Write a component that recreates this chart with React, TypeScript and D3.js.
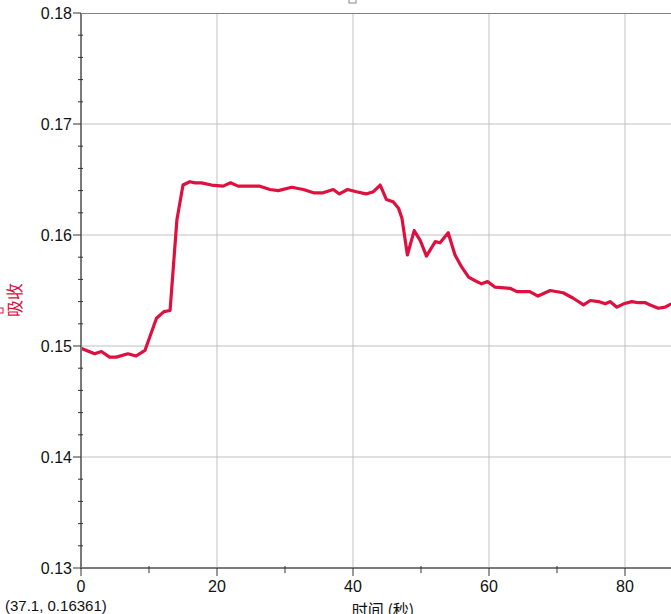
import React from "react";
import * as d3 from "d3";

const times = [0, 2, 3, 4.2, 5.2, 6.9, 8.1, 9.4, 11.1, 12.2, 13.1, 14.1, 15.0, 16.0, 16.8, 17.7, 19.2, 20.9, 22, 23.1, 26.3, 27.8, 29, 31, 32.7, 34.2, 35.6, 37.1, 38, 39.2, 40.5, 41.9, 43, 44, 44.9, 45.9, 46.7, 47.2, 48, 49, 49.9, 50.8, 52.1, 52.8, 54, 55, 56, 57, 57.9, 58.9, 59.8, 60.9, 63.1, 64.1, 66, 67.2, 69, 70.9, 72.4, 73.9, 74.9, 76.1, 77.1, 77.8, 78.8, 79.8, 81, 82, 83, 83.7, 84.9, 85.9, 86.8];
const absorb = [0.1498, 0.1493, 0.1495, 0.1490, 0.1490, 0.1493, 0.1491, 0.1496, 0.1525, 0.1531, 0.1532, 0.16135, 0.1645, 0.1648, 0.1647, 0.1647, 0.1645, 0.1644, 0.1647, 0.1644, 0.1644, 0.1641, 0.1640, 0.1643, 0.1641, 0.1638, 0.1638, 0.1641, 0.1637, 0.1641, 0.1639, 0.1637, 0.1639, 0.1645, 0.1632, 0.1630, 0.1624, 0.1615, 0.1582, 0.1604, 0.1595, 0.1581, 0.1594, 0.1593, 0.1602, 0.1582, 0.1571, 0.1562, 0.1559, 0.1556, 0.1558, 0.1553, 0.1552, 0.1549, 0.1549, 0.1545, 0.1550, 0.1548, 0.1543, 0.1537, 0.1541, 0.1540, 0.1538, 0.1540, 0.1535, 0.1538, 0.1540, 0.1539, 0.1539, 0.1537, 0.1534, 0.1535, 0.1538];

const xTicks = [0, 20, 40, 60, 80];
const xMinor = [10, 30, 50, 70];
const yTicks = [0.13, 0.14, 0.15, 0.16, 0.17, 0.18];
const yTickLabels = ["0.13", "0.14", "0.15", "0.16", "0.17", "0.18"];
const yMinorStep = 0.002;

const yLabel = "吸收";
const xLabel = "时间 (秒)";
const cursorText = "(37.1, 0.16361)";

const W = 671, H = 614;
const L = 81, T = 13, B = 568;

export default function App() {
  const x = d3.scaleLinear().domain([0, 590 / 6.8]).range([L, W]);
  const y = d3.scaleLinear().domain([0.13, 0.18]).range([B, T]);
  const data = times.map((t, i) => [t, absorb[i]] as [number, number]);
  const line = d3.line<[number, number]>().x(d => x(d[0])).y(d => y(d[1]));
  const yMinor: number[] = [];
  for (let v = 0.13; v < 0.18 - 1e-9; v += yMinorStep) {
    const r = Math.round(v * 1000) / 1000;
    if (Math.abs(r * 100 - Math.round(r * 100)) > 1e-6) yMinor.push(r);
  }
  const font = "'Liberation Sans', Arial, sans-serif";
  const crimson = "#de1040";
  return (
    <svg width={W} height={H} style={{ position: "absolute", left: 0, top: 0, background: "#fff" }}>
      <rect x={0} y={0} width={W} height={H} fill="#fff" />
      {xTicks.filter(t => t > 0).map(t => (
        <line key={"gx" + t} x1={x(t)} x2={x(t)} y1={T} y2={B} stroke="#c0c0c0" strokeWidth={1} />
      ))}
      {yTicks.filter(t => t > 0.13 && t < 0.18).map(t => (
        <line key={"gy" + t} x1={L} x2={W} y1={y(t)} y2={y(t)} stroke="#c0c0c0" strokeWidth={1} />
      ))}
      <line x1={L} x2={W} y1={T + 0.5} y2={T + 0.5} stroke="#808080" strokeWidth={1} />
      <path d={line(data) || ""} fill="none" stroke={crimson} strokeWidth={3.2} strokeLinejoin="round" />
      <line x1={L} x2={L} y1={T} y2={B + 1} stroke="#7a7a7a" strokeWidth={2} />
      <line x1={L - 1} x2={W} y1={B} y2={B} stroke="#7a7a7a" strokeWidth={2} />
      {yTicks.map((t, i) => (
        <g key={"yt" + t}>
          <line x1={L - 8} x2={L} y1={y(t)} y2={y(t)} stroke="#333" strokeWidth={1} />
          <text x={L - 9} y={y(t)} dy="0.35em" textAnchor="end" fontFamily={font} fontSize={16} fill="#111">{yTickLabels[i]}</text>
        </g>
      ))}
      {yMinor.map(t => (
        <line key={"ym" + t} x1={L - 3} x2={L + 2} y1={y(t)} y2={y(t)} stroke="#333" strokeWidth={1} />
      ))}
      {xTicks.map(t => (
        <g key={"xt" + t}>
          <line x1={x(t)} x2={x(t)} y1={B} y2={B + 8} stroke="#333" strokeWidth={1} />
          <text x={x(t)} y={B + 24} textAnchor="middle" fontFamily={font} fontSize={16} fill="#111">{t}</text>
        </g>
      ))}
      {xMinor.map(t => (
        <line key={"xm" + t} x1={x(t)} x2={x(t)} y1={B - 2} y2={B + 5} stroke="#333" strokeWidth={1} />
      ))}
      <text transform={`translate(21,${300}) rotate(-90)`} textAnchor="middle" fontFamily="'Noto Sans CJK SC', sans-serif" fontSize={17} fill={crimson}>{yLabel}</text>
      <rect x={-3} y={308} width={6} height={5} fill="none" stroke={crimson} strokeWidth={1} />
      <rect x={349} y={-3} width={7} height={6} fill="none" stroke="#888" strokeWidth={1} />
      <text x={383} y={616} textAnchor="middle" fontFamily="'Noto Sans CJK SC', sans-serif" fontSize={16} fill="#111">{xLabel}</text>
      <text x={5} y={611} fontFamily={font} fontSize={15} fill="#111">{cursorText}</text>
    </svg>
  );
}
